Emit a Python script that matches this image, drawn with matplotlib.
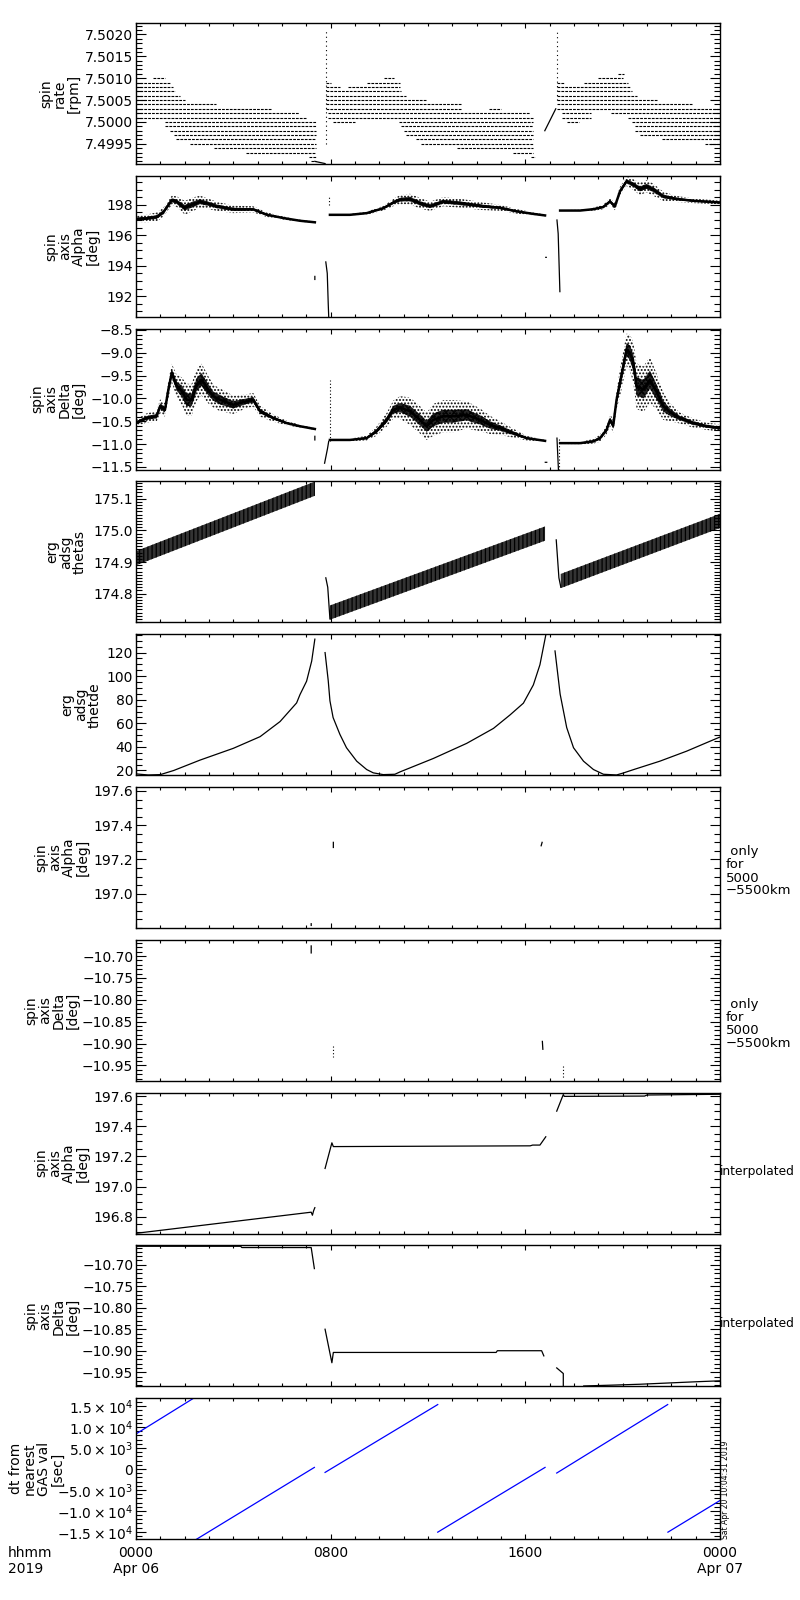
import numpy as np
import matplotlib
matplotlib.use('Agg')
import matplotlib.pyplot as plt
from matplotlib.ticker import FixedLocator, MultipleLocator, FixedFormatter, NullFormatter

nan = np.nan

# ---------------- time axis (hours from 2019-04-06 00:00) ----------------
x_ticks = [0, 8, 16, 24]
x_ticklabels = ["0000\nApr 06", "0800", "1600", "0000\nApr 07"]

# ---------------- panel 1: spin rate (quantised levels) ----------------
rate_level = [7.5010, 7.5009, 7.5008, 7.5007, 7.5006, 7.5005, 7.5004, 7.5003, 7.5002, 7.5001,
              7.5000, 7.4999, 7.4998, 7.4997, 7.4996, 7.4995, 7.4994, 7.4993, 7.4992, 7.4991,
              7.5010, 7.5009, 7.5009, 7.5008, 7.5008, 7.5007, 7.5006, 7.5005, 7.5004, 7.5003,
              7.5003, 7.5002, 7.5001, 7.5000, 7.5000, 7.4999, 7.4998, 7.4997, 7.4996, 7.4995,
              7.4994, 7.4993, 7.4992,
              7.5011, 7.5010, 7.5009, 7.5009, 7.5008, 7.5007, 7.5006, 7.5005, 7.5004, 7.5003,
              7.5002, 7.5002, 7.5001, 7.5001, 7.5000, 7.5000, 7.4999, 7.4998, 7.4997, 7.4996,
              7.4995]
rate_t0 = [0.7, 0.0, 0.0, 0.0, 0.0, 0.0, 0.0, 0.0, 0.0, 0.0,
           1.2, 1.2, 1.4, 1.55, 1.65, 2.2, 3.2, 4.5, 7.1, 7.2,
           10.2, 7.8, 9.5, 7.8, 8.7, 7.8, 7.8, 7.8, 7.8, 7.8,
           14.5, 7.9, 7.9, 8.1, 10.8, 10.9, 11.0, 11.1, 11.5, 11.7,
           13.2, 15.5, 16.25,
           19.8, 19.0, 17.3, 18.4, 17.3, 17.3, 17.3, 17.3, 17.3, 17.3,
           17.5, 19.5, 17.5, 20.2, 17.7, 20.4, 20.5, 20.5, 20.7, 21.6,
           23.4]
rate_t1 = [1.2, 1.4, 1.5, 1.6, 1.8, 2.0, 3.3, 5.6, 6.7, 7.0,
           7.4, 7.4, 7.4, 7.4, 7.4, 7.4, 7.4, 7.4, 7.4, 7.4,
           10.6, 8.0, 10.85, 8.4, 10.85, 10.9, 11.1, 11.9, 13.4, 13.4,
           15.0, 16.2, 16.3, 9.0, 16.3, 16.3, 16.3, 16.3, 16.3, 16.3,
           16.3, 16.3, 16.4,
           20.05, 20.0, 17.6, 20.2, 20.3, 20.4, 20.6, 21.4, 22.9, 24.0,
           18.7, 24.0, 18.7, 24.0, 18.2, 24.0, 24.0, 24.0, 24.0, 24.0,
           24.0]
rate_spike_t = [7.8, 17.3]
rate_spike_lo = [7.4995, 7.5005]
rate_spike_hi = [7.5021, 7.5021]
rate_line_t = [7.35, 7.77, nan, 16.8, 17.25]
rate_line_v = [7.4991, 7.49905, nan, 7.4998, 7.5003]

# ---------------- panel 2: spin axis alpha (scatter cloud) ----------------
alpha_t = [0, 0.42, 0.85, 1.12, 1.47, 1.67, 2.01, 2.29, 2.63, 2.9, 3.31, 4.0, 4.82, 5.37, 6.05, 6.74, 7.35, nan,
           7.97, 8.79, 9.48, 10.16, 10.64, 10.85, 11.26, 11.67, 12.08, 12.63, 13.32, 14.27, 14.96, 15.64, 16.33, 16.81, nan,
           17.43, 18.25, 18.8, 19.2, 19.48, 19.68, 19.89, 20.16, 20.44, 20.71, 20.98, 21.26, 21.67, 22.22, 22.9, 24.0]
alpha_c = [197.07, 197.1, 197.2, 197.5, 198.3, 198.2, 197.8, 198.0, 198.2, 198.1, 197.9, 197.7, 197.7, 197.35, 197.13, 196.95, 196.85, nan,
           197.34, 197.34, 197.45, 197.77, 198.2, 198.33, 198.37, 198.1, 197.9, 198.2, 198.1, 197.9, 197.8, 197.57, 197.4, 197.3, nan,
           197.62, 197.62, 197.71, 197.85, 198.22, 197.89, 198.88, 199.54, 199.32, 199.04, 199.21, 198.99, 198.55, 198.38, 198.26, 198.15]
alpha_s = [0.2, 0.25, 0.3, 0.3, 0.3, 0.35, 0.45, 0.45, 0.4, 0.35, 0.3, 0.25, 0.2, 0.15, 0.1, 0.07, 0.05, nan,
           0.03, 0.05, 0.1, 0.15, 0.25, 0.3, 0.35, 0.35, 0.3, 0.3, 0.3, 0.25, 0.2, 0.15, 0.1, 0.05, nan,
           0.03, 0.05, 0.1, 0.15, 0.2, 0.25, 0.3, 0.3, 0.35, 0.4, 0.4, 0.4, 0.3, 0.2, 0.15, 0.12]
alpha_x_t = [7.35, 7.35, nan, 7.8, 7.86, 7.9, 7.92, nan, 16.84, 16.86, nan, 17.3, 17.35, 17.42]
alpha_x_v = [193.1, 193.3, nan, 194.25, 193.5, 191.5, 190.65, nan, 194.55, 194.55, nan, 197.0, 196.1, 192.3]
alpha_dot_t = [7.95, 7.95]
alpha_dot_v = [198.0, 198.5]

# ---------------- panel 3: spin axis delta (scatter cloud) ----------------
delta_t = [0, 0.42, 0.85, 0.99, 1.19, 1.33, 1.47, 1.67, 1.88, 2.08, 2.29, 2.49, 2.7, 2.97, 3.18, 3.45, 4.0, 4.55, 4.82, 5.1, 5.64, 6.19, 6.74, 7.35, nan,
           7.97, 8.79, 9.48, 9.88, 10.3, 10.57, 10.85, 11.26, 11.67, 11.95, 12.22, 12.63, 13.04, 13.59, 14.14, 14.55, 14.96, 15.5, 16.05, 16.81, nan,
           17.43, 18.25, 18.8, 19.07, 19.34, 19.48, 19.61, 19.75, 19.89, 20.16, 20.3, 20.44, 20.57, 20.85, 21.12, 21.39, 21.67, 21.94, 22.35, 22.9, 23.45, 24.0]
delta_c = [-10.54, -10.43, -10.39, -10.17, -10.25, -9.81, -9.44, -9.73, -9.84, -10.03, -10.03, -9.70, -9.59, -9.81, -9.95, -10.03, -10.14, -10.06, -10.03, -10.28, -10.43, -10.54, -10.61, -10.67, nan,
           -10.91, -10.91, -10.87, -10.72, -10.47, -10.25, -10.2, -10.28, -10.47, -10.61, -10.47, -10.39, -10.39, -10.36, -10.47, -10.58, -10.65, -10.76, -10.87, -10.93, nan,
           -10.98, -10.98, -10.94, -10.87, -10.69, -10.47, -10.6, -10.03, -9.66, -8.93, -9.0, -9.22, -9.73, -9.8, -9.59, -9.85, -10.17, -10.3, -10.43, -10.54, -10.61, -10.65]
delta_s = [0.08, 0.1, 0.12, 0.15, 0.15, 0.2, 0.2, 0.25, 0.3, 0.35, 0.35, 0.35, 0.35, 0.3, 0.25, 0.25, 0.2, 0.15, 0.15, 0.12, 0.08, 0.05, 0.03, 0.02, nan,
           0.02, 0.03, 0.05, 0.1, 0.15, 0.2, 0.25, 0.3, 0.3, 0.3, 0.35, 0.35, 0.35, 0.3, 0.25, 0.2, 0.15, 0.1, 0.05, 0.02, nan,
           0.02, 0.03, 0.05, 0.08, 0.1, 0.12, 0.15, 0.2, 0.3, 0.35, 0.4, 0.45, 0.5, 0.5, 0.5, 0.4, 0.3, 0.2, 0.12, 0.1, 0.08, 0.08]
delta_x_t = [7.35, 7.35, nan, 7.75, 7.87, 7.92, nan, 16.82, 16.88, nan, 17.3, 17.36]
delta_x_v = [-10.83, -10.91, nan, -11.42, -11.1, -10.94, nan, -11.4, -11.4, nan, -10.87, -11.56]
delta_dot_t = [7.97, 7.97, nan, 17.4, 17.4]
delta_dot_v = [-10.94, -9.59, nan, -10.9, -11.56]

# ---------------- panel 4: erg adsg thetas (band) ----------------
thetas_t = [0, 7.35, nan, 7.97, 16.81, nan, 17.46, 24.0]
thetas_c = [174.912, 175.132, nan, 174.74, 174.99, nan, 174.84, 175.03]
thetas_w = 0.045
thetas_x_t = [7.8, 7.88, 7.97, nan, 17.27, 17.38, 17.46]
thetas_x_v = [174.85, 174.82, 174.72, nan, 174.97, 174.85, 174.82]

# ---------------- panel 5: erg adsg thetde ----------------
thetde_t = [0, 0.5, 1.0, 1.55, 2.63, 4.0, 5.1, 5.92, 6.6, 6.74, 7.01, 7.22, 7.35, nan,
            7.77, 7.9, 7.97, 8.1, 8.38, 8.65, 9.07, 9.48, 9.75, 10.16, 10.64, 10.85, 12.22, 13.59, 14.69, 15.37, 15.92, 16.33, 16.6, 16.84, nan,
            17.22, 17.43, 17.7, 17.98, 18.39, 18.8, 19.21, 19.75, 20.03, 20.44, 21.53, 22.63, 23.45, 24.0]
thetde_v = [17.1, 16.2, 16.5, 20.0, 28.8, 38.8, 48.7, 61.5, 77.3, 84.4, 95.7, 112.8, 131.4, nan,
            120, 96.2, 79.1, 64.9, 50.6, 39.3, 27.9, 20.8, 18.0, 16.5, 16.8, 18.8, 30.2, 43.0, 55.7, 67.1, 77.1, 92.6, 109.7, 134.8, nan,
            121.4, 84.8, 56.4, 39.3, 27.9, 20.8, 16.8, 16.2, 17.9, 20.7, 27.9, 36.4, 43.6, 48.4]

# ---------------- panel 6/7: only for 5000-5500 km ----------------
alpha_only_t = [7.2, 7.2, nan, 8.11, 8.11, nan, 16.65, 16.69, nan, 17.56, 17.57]
alpha_only_v = [196.815, 196.825, nan, 197.27, 197.30, nan, 197.28, 197.30, nan, 197.605, 197.62]
delta_only_t = [7.2, 7.2, nan, 16.7, 16.72]
delta_only_v = [-10.677, -10.693, nan, -10.895, -10.913]
delta_only_dot_t = [8.11, 8.11, nan, 17.56, 17.56]
delta_only_dot_v = [-10.905, -10.93, nan, -10.952, -10.978]

# ---------------- panel 8/9: interpolated ----------------
alpha_int_t = [0, 7.2, 7.25, 7.3, 7.35, nan, 7.77, 8.05, 8.11, 16.2, 16.3, 16.6, 16.84, nan,
               17.29, 17.56, 17.6, 20.9, 21.0, 24.0]
alpha_int_v = [196.69, 196.83, 196.81, 196.84, 196.86, nan, 197.12, 197.29, 197.265, 197.27, 197.275, 197.275, 197.33, nan,
               197.5, 197.61, 197.598, 197.6, 197.607, 197.612]
delta_int_t = [0, 4.3, 4.35, 7.2, 7.33, nan, 7.77, 8.05, 8.11, 14.8, 14.85, 16.67, 16.76, nan,
               17.29, 17.56, 17.56, nan, 18.4, 19.6, 20.7, 21.9, 23.1, 24.0]
delta_int_v = [-10.657, -10.657, -10.66, -10.66, -10.709, nan, -10.85, -10.928, -10.904, -10.904, -10.90, -10.90, -10.912, nan,
               -10.94, -10.953, -10.982, nan, -10.982, -10.98, -10.978, -10.975, -10.972, -10.970]

# ---------------- panel 10: dt from nearest GAS val ----------------
dt_t = [0, 2.34, nan, 2.49, 7.33, nan, 7.77, 12.4, nan, 12.4, 16.81, nan, 17.29, 21.85, nan, 21.86, 24.0]
dt_v = [8373, 16800, nan, -16750, 380, nan, -810, 15380, nan, -15070, 380, nan, -960, 15380, nan, -15070, -7510]
dt_ticks = [-15000, -10000, -5000, 0, 5000, 10000, 15000]
dt_ticklabels = [r'$-1.5\times10^{4}$', r'$-1.0\times10^{4}$', r'$-5.0\times10^{3}$', '0',
                 r'$5.0\times10^{3}$', r'$1.0\times10^{4}$', r'$1.5\times10^{4}$']

# ---------------- panel labels / axes ----------------
ylabels = ["spin\nrate\n[rpm]", "spin\naxis\nAlpha\n[deg]", "spin\naxis\nDelta\n[deg]",
           "erg\nadsg\nthetas", "erg\nadsg\nthetde", "spin\naxis\nAlpha\n[deg]",
           "spin\naxis\nDelta\n[deg]", "spin\naxis\nAlpha\n[deg]", "spin\naxis\nDelta\n[deg]",
           "dt from\nnearest\nGAS val\n[sec]"]
ylabel_x = [60, 72, 58, 66, 81, 62, 52, 62, 52, 37]
ylims = [(7.49904, 7.50226), (190.65, 199.9), (-11.56, -8.47), (174.709, 175.155), (16, 135.6),
         (196.80, 197.623), (-10.985, -10.663), (196.688, 197.623), (-10.983, -10.655), (-16750, 16900)]
yticks = [[7.4995, 7.5000, 7.5005, 7.5010, 7.5015, 7.5020],
          [192, 194, 196, 198],
          [-11.5, -11.0, -10.5, -10.0, -9.5, -9.0, -8.5],
          [174.8, 174.9, 175.0, 175.1],
          [20, 40, 60, 80, 100, 120],
          [197.0, 197.2, 197.4, 197.6],
          [-10.95, -10.90, -10.85, -10.80, -10.75, -10.70],
          [196.8, 197.0, 197.2, 197.4, 197.6],
          [-10.95, -10.90, -10.85, -10.80, -10.75, -10.70],
          dt_ticks]
yfmt = ['%.4f', '%d', '%.1f', '%.1f', '%d', '%.1f', '%.2f', '%.1f', '%.2f', None]
yminor = [0.0001, 0.5, 0.1, 0.01, 5, 0.05, 0.01, 0.05, 0.01, 1000]
right_notes = [None, None, None, None, None, " only\nfor\n5000\n\u22125500km", " only\nfor\n5000\n\u22125500km",
               "interpolated", "interpolated", None]

# ---------------- figure ----------------
W, H = 800, 1600
plt.rcParams['font.family'] = ['DejaVu Sans']
plt.rcParams['hatch.linewidth'] = 0.9
fig = plt.figure(figsize=(8, 16), dpi=100)
left_px, right_px = 136, 720
top0, step, ph = 23, 152.8, 141

axes = []
for i in range(10):
    top = top0 + step * i
    ax = fig.add_axes([left_px / W, 1 - (top + ph) / H, (right_px - left_px) / W, ph / H])
    axes.append(ax)
    ax.set_xlim(0, 24)
    ax.set_ylim(*ylims[i])
    ax.yaxis.set_major_locator(FixedLocator(yticks[i]))
    if yfmt[i] is None:
        labs = dt_ticklabels
    else:
        labs = [(yfmt[i] % v).replace('-', '\u2212') for v in yticks[i]]
    ax.yaxis.set_major_formatter(FixedFormatter(labs))
    ax.yaxis.set_minor_locator(MultipleLocator(yminor[i]))
    ax.xaxis.set_major_locator(FixedLocator(x_ticks))
    ax.xaxis.set_minor_locator(MultipleLocator(1))
    ax.tick_params(axis='both', which='both', direction='in', top=True, right=True,
                   labelsize=10, width=0.8, colors='black')
    ax.tick_params(axis='y', which='major', length=7, pad=2)
    ax.tick_params(axis='y', which='minor', length=4.3)
    ax.tick_params(axis='x', which='major', length=3.6, pad=5)
    ax.tick_params(axis='x', which='minor', length=2.2)
    for sp in ax.spines.values():
        sp.set_linewidth(1.0)
    if i < 9:
        ax.xaxis.set_major_formatter(NullFormatter())
    else:
        ax.xaxis.set_major_formatter(FixedFormatter(x_ticklabels))
    yc = top + ph / 2
    fig.text(ylabel_x[i] / W, 1 - yc / H, ylabels[i], rotation=90, ha='center', va='center',
             multialignment='center', fontsize=10, linespacing=1.0)
    if right_notes[i] is not None:
        if right_notes[i] == "interpolated":
            fig.text(720 / W, 1 - (yc + 8) / H, right_notes[i], ha='left', va='center', fontsize=8.8)
        else:
            fig.text(726 / W, 1 - (yc + 14) / H, right_notes[i], ha='left', va='center', fontsize=9.5,
                     linespacing=1.0)

lw = 0.9
# panel 1
ax = axes[0]
ax.hlines(rate_level, rate_t0, rate_t1, colors='black', linewidth=0.8, linestyles=(0, (2.5, 1.0)))
ax.vlines(rate_spike_t, rate_spike_lo, rate_spike_hi, colors='black', linewidth=0.8, linestyles=(0, (1, 3)))
ax.plot(rate_line_t, rate_line_v, color='black', lw=lw)


def cloud(ax, t, c, s):
    t, c, s = np.array(t), np.array(c), np.array(s)
    ax.fill_between(t, c - s, c + s, facecolor='none', edgecolor='black', hatch='.....', linewidth=0)
    ax.fill_between(t, c - 0.4 * s, c + 0.4 * s, facecolor='black', edgecolor='black',
                    hatch='xxxx', linewidth=0, alpha=0.85)
    ax.plot(t, c, color='black', lw=1.8)


# panel 2
ax = axes[1]
cloud(ax, alpha_t, alpha_c, alpha_s)
ax.plot(alpha_x_t, alpha_x_v, color='black', lw=lw)
ax.plot(alpha_dot_t, alpha_dot_v, color='black', lw=0.8, ls=(0, (1, 2)))

# panel 3
ax = axes[2]
cloud(ax, delta_t, delta_c, delta_s)
ax.plot(delta_x_t, delta_x_v, color='black', lw=lw)
ax.plot(delta_dot_t, delta_dot_v, color='black', lw=0.8, ls=(0, (1, 2)))

# panel 4
ax = axes[3]
t4, c4 = np.array(thetas_t), np.array(thetas_c)
ax.fill_between(t4, c4 - thetas_w / 2, c4 + thetas_w / 2, facecolor='0.2', edgecolor='black',
                hatch='||||', linewidth=0)
ax.plot(thetas_x_t, thetas_x_v, color='black', lw=lw)

# panel 5
axes[4].plot(thetde_t, thetde_v, color='black', lw=lw)

# panel 6, 7
axes[5].plot(alpha_only_t, alpha_only_v, color='black', lw=lw)
axes[6].plot(delta_only_t, delta_only_v, color='black', lw=lw)
axes[6].plot(delta_only_dot_t, delta_only_dot_v, color='black', lw=0.8, ls=(0, (1, 2)))

# panel 8, 9
axes[7].plot(alpha_int_t, alpha_int_v, color='black', lw=lw)
axes[8].plot(delta_int_t, delta_int_v, color='black', lw=lw)

# panel 10
axes[9].plot(dt_t, dt_v, color='blue', lw=lw)
fig.text(725 / W, 1 - 1539 / H, "Sat Apr 20 10:04:31 2019", rotation=90, ha='center', va='bottom', fontsize=5.5)

fig.text(8 / W, 1 - 1546 / H, "hhmm\n2019", ha='left', va='top', fontsize=10)

fig.savefig('out.png', dpi=100)
